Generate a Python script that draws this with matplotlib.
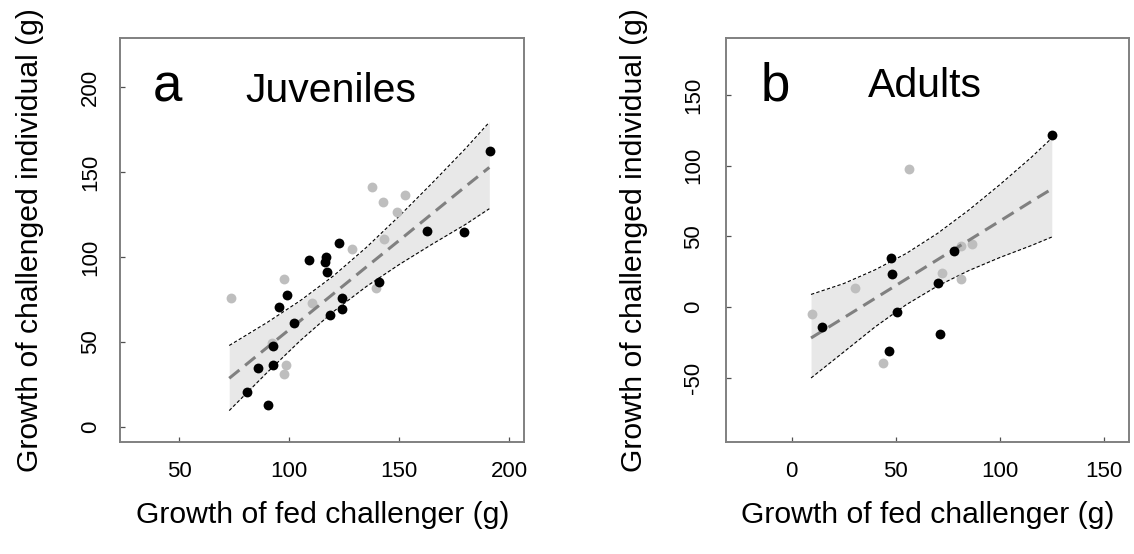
import matplotlib
matplotlib.use("Agg")
import matplotlib.pyplot as plt
import numpy as np

plt.rcParams['font.family'] = ['Liberation Sans', 'DejaVu Sans']
plt.rcParams['axes.unicode_minus'] = False

# ---- panel a: juveniles ----
juv_black_x = [80.6, 90.5, 85.6, 92.7, 92.7, 102.1, 95.5, 98.8, 109.0, 116.7, 116.2, 117.0,
               122.6, 118.5, 124.1, 124.1, 140.9, 162.5, 179.5, 191.2]
juv_black_y = [20.9, 12.7, 34.6, 36.6, 47.9, 61.4, 70.4, 77.6, 98.6, 99.8, 97.2, 91.3,
               108.3, 66.1, 75.7, 69.2, 85.3, 115.6, 114.6, 162.7]
juv_grey_x = [73.5, 97.7, 98.4, 97.7, 110.5, 128.6, 137.5, 142.5, 152.6, 148.8, 143.0, 139.4, 92.0]
juv_grey_y = [76.1, 87.4, 36.4, 31.1, 72.8, 104.5, 141.2, 132.2, 136.3, 126.3, 110.9, 81.9, 49.6]
juv_band_x = [72.7, 90, 105, 120, 135, 150, 165, 180, 190.9]
juv_fit = [28.7, 46.9, 62.6, 78.4, 94.2, 109.9, 125.7, 141.5, 152.8]
juv_lo = [9.7, 32.2, 50.9, 67.9, 82.7, 95.7, 107.7, 119.2, 128.5]
juv_hi = [48.0, 61.6, 74.4, 88.9, 105.7, 124.2, 143.7, 163.8, 179.4]

# ---- panel b: adults ----
ad_black_x = [14.7, 47.6, 48.3, 50.4, 46.8, 71.2, 70.4, 77.7, 125.0]
ad_black_y = [-13.9, 34.4, 23.3, -3.3, -30.9, -18.9, 16.7, 39.8, 121.9]
ad_grey_x = [9.9, 30.4, 56.3, 44.0, 72.0, 81.1, 86.4, 81.2]
ad_grey_y = [-5.0, 13.2, 97.6, -39.6, 23.8, 19.5, 44.3, 42.9]
ad_band_x = [9.3, 25, 40, 55, 70, 85, 100, 115, 124.8]
ad_fit = [-21.9, -7.6, 6.1, 19.8, 33.5, 47.2, 60.9, 74.7, 83.5]
ad_lo = [-50.2, -31.8, -14.1, 1.7, 14.9, 25.8, 35.1, 43.5, 49.5]
ad_hi = [8.9, 16.6, 26.3, 37.9, 52.1, 68.6, 86.7, 105.9, 119.5]

fig = plt.figure(figsize=(11.34, 5.54), dpi=100)
ax_a = fig.add_axes([120.3 / 1134, (554 - 442) / 554, 404 / 1134, 403.7 / 554])
ax_b = fig.add_axes([726 / 1134, (554 - 442.3) / 554, 403.3 / 1134, 404 / 554])


def panel(ax, bx, by, gx, gy, band_x, fit, lo, hi, xlim, ylim, xticks, yticks, ypad):
    ax.fill_between(band_x, lo, hi, color='#e8e8e8', lw=0, zorder=1)
    ax.plot(band_x, lo, color='black', lw=0.8, dashes=(3, 2), zorder=2)
    ax.plot(band_x, hi, color='black', lw=0.8, dashes=(3, 2), zorder=2)
    ax.scatter(gx, gy, s=50, color='#bebebe', lw=0, zorder=3)
    ax.plot(band_x, fit, color='#808080', lw=2.2, dashes=(4.3, 2.4), zorder=4)
    ax.scatter(bx, by, s=50, color='black', lw=0, zorder=5)
    ax.set_xlim(xlim)
    ax.set_ylim(ylim)
    ax.set_xticks(xticks)
    ax.set_yticks(yticks)
    for s in ax.spines.values():
        s.set_color('#808080')
        s.set_linewidth(1.4)
    ax.tick_params(direction='in', length=3.5, width=0.9, color='#505050', labelsize=16)
    ax.tick_params(axis='x', pad=13.6)
    ax.tick_params(axis='y', pad=ypad)
    for lab in ax.get_yticklabels():
        lab.set_rotation(90)
        lab.set_va('center')


panel(ax_a, juv_black_x, juv_black_y, juv_grey_x, juv_grey_y, juv_band_x, juv_fit, juv_lo, juv_hi,
      (23.2, 206.8), (-8.8, 228.8), [50, 100, 150, 200], [0, 50, 100, 150, 200], 13.7)
panel(ax_b, ad_black_x, ad_black_y, ad_grey_x, ad_grey_y, ad_band_x, ad_fit, ad_lo, ad_hi,
      (-31.5, 162.0), (-95.7, 190.1), [0, 50, 100, 150], [-50, 0, 50, 100, 150], 15.8)

xlab = "Growth of fed challenger (g)"
ylab = "Growth of challenged individual (g)"
ax_a.text(0.5, -0.2006, xlab, transform=ax_a.transAxes, ha='center', va='baseline', fontsize=21.7)
ax_b.text(0.5, -0.2005, xlab, transform=ax_b.transAxes, ha='center', va='baseline', fontsize=21.7)
ax_a.text(-0.2225, 0.5, ylab, transform=ax_a.transAxes, ha='center', va='center', rotation=90, fontsize=21.7)
ax_b.text(-0.2271, 0.5, ylab, transform=ax_b.transAxes, ha='center', va='center', rotation=90, fontsize=21.7)

ax_a.text(0.081, 0.843, "a", transform=ax_a.transAxes, ha='left', va='baseline', fontsize=38)
ax_a.text(0.309, 0.843, "Juveniles", transform=ax_a.transAxes, ha='left', va='baseline', fontsize=29.5)
ax_b.text(0.0868, 0.847, "b", transform=ax_b.transAxes, ha='left', va='baseline', fontsize=38)
ax_b.text(0.353, 0.854, "Adults", transform=ax_b.transAxes, ha='left', va='baseline', fontsize=29.5)

fig.savefig("out.png", dpi=100)
